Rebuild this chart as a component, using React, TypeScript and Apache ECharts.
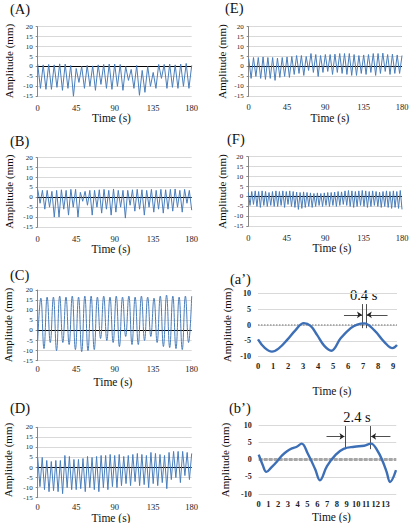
import { useEffect, useRef } from "react";
import * as echarts from "echarts";

// ---------------- data ----------------
// Long recordings: successive extremes (peak / trough), sampled evenly over 0-180 s
const TIME_SPAN = 180;
const LONG_X_TICK_STEP = 45;

const A_EXTREMES = [
  1.2, -11, 0.8, -11.5, 1, -11.5, 0.8, -10.5, 1.3, -12,
  1.2, -11, 0.5, -15, -1, -8, 0, -11, 0.5, -10,
  0.3, -12, 0.8, -9, 1, -11, 1.2, -11.5, 1.2, -10,
  1, -12, 0, -7, -1.5, -11, 0.5, -14.5, -2, -13,
  0, -10, -3, -11, 1, -6, 1, -11, 1.2, -10.5,
  0.8, -11, 1.2, -10, 1.5, -11, 0.5,
];
const B_EXTREMES = [
  4, -3, 3.5, -6, 3.5, -5, 3, -10, 3.5, -10,
  3.8, -6, 3.5, -9, 4, -5, 4, -10, 2.5, -2,
  3, -4, 3.5, -9, 3.5, -5, 3.8, -8, 4, -6,
  3.5, -9, 4.2, -7.5, 3.5, -5, 3.5, -10.5, 3.5, -4,
  3.8, -7, 4, -6, 3.8, -9, 3.5, -5, 4, -7.5,
  3.5, -6, 4, -8, 3.8, -6, 4, -7, 4.2, -5,
  3.5, -7.5, 4, -3, 3.5, -6.5,
];
const C_EXTREMES = [
  -5, 16, -9, 16.5, -6, 16.5, -10, 17, -6, 16.5,
  -7, 17, -9.5, 16.5, -10.5, 17, -10, 17, -9.5, 16.5,
  -4, 17, -5, 16.5, -6, 17, -8, 16.5, -3, 17,
  -7, 16.5, -7, 17, -5, 16.5, -3, 16, -6, 17,
  -8, 17.5, -8.5, 17, -9, 16.5, -9.5, 17, -6, 17,
];
const D_EXTREMES = [
  5, -9.5, 5, -11, 3.5, -12, 3, -11.5, 3.5, -12,
  3.5, -13, 6, -10, 5.5, -11, 4, -11, 4, -10.5,
  4.5, -12, 5.5, -10, 5, -11, 5.5, -12, 6, -10,
  6, -11, 6.5, -9.5, 6, -10, 6.5, -9, 5.5, -8,
  6, -9, 6.5, -7, 7, -9, 6.5, -8.5, 6, -10,
  7.5, -8, 7, -9, 6.5, -7.5, 6, -10.5, 7.5, -6,
  8, -5, 8, -7.5, 8, -4, 7.5, -6, 7,
];
const E_EXTREMES = [
  4, -6, 4.5, -5, 4.5, -6, 4.8, -6.5, 4.5, -6,
  4.5, -7, 4.2, -5.5, 4.5, -5, 4.8, -5.5, 5, -4,
  5.5, -3.5, 5.5, -4.5, 5, -2, 6.5, -3, 6, -5,
  5.5, -3, 6, -2.5, 6, -4, 6.2, -3, 6.5, -3.5,
  6.5, -4, 6.5, -4.5, 6, -4.5, 5.5, -3.5, 5.8, -4,
  6, -3, 6.5, -4.5, 6.5, -3.5, 6.7, -2.5, 6, -4,
  6.2, -3.5, 5.8, -3.5, 5.5,
];
const F_EXTREMES = [
  2, -4.5, 2.5, -4, 2.8, -5, 2.5, -5.5, 2.8, -4.5,
  2.5, -5, 2, -4.5, 2.5, -5, 2.8, -5, 2.5, -4.5,
  2.8, -5.5, 2.5, -4, 2.8, -5, 2.5, -5.5, 2.2, -6.5,
  2, -6, 2.3, -5.5, 2, -5, 1.8, -5.5, 1.5, -5,
  1.8, -4.5, 1.5, -5, 1.8, -4.5, 2, -5, 2, -4.5,
  2.2, -5, 2.5, -4.5, 2.3, -4, 2.8, -4.5, 3, -5,
  2.8, -5.5, 2.5, -5, 2.8, -4.5, 3, -5, 2.8, -5.5,
  2.5, -5, 2.8, -4.5, 2.5, -5, 2.2, -5.5, 2.5, -5,
  2.8, -5.5, 2.5, -6, 2.8, -5.5, 2.5, -6, 3, -6.5,
];

// Close-ups (a') and (b')
const A1_TIMES = [0, 0.45, 0.93, 1.4, 1.94, 2.5, 3.05, 3.5, 3.94, 4.4, 4.88, 5.5, 6.17, 6.6, 7.06, 7.73, 8.4, 8.95, 9.25];
const A1_VALUES = [-4.5, -7.2, -8.4, -7.3, -4.7, -1.6, 0.6, -0.3, -3.2, -6.5, -8.1, -4.2, -1.0, 0.1, 0.5, -1.6, -5.3, -7.3, -6.3];
const B1_TIMES = [0, 0.4, 0.79, 1.3, 1.9, 2.4, 2.9, 3.4, 3.9, 4.4, 5.0, 5.8, 6.27, 7.0, 7.9, 8.7, 9.8, 10.8, 11.5, 12.2, 12.7, 13.1, 13.46, 14.07];
const B1_VALUES = [1.4, -1.5, -3.6, -2.3, -0.5, 1.2, 2.4, 3.2, 3.7, 4.6, 1.9, -2.9, -6.0, -1.9, 1.4, 3.1, 3.7, 4.0, 4.6, 2.4, -0.5, -3.5, -6.5, -3.1];
const A1_LAST_TICK = 9;
const B1_LAST_TICK = 13;

// Annotation of the close-ups (data units)
const A1_GAP = { left: 6.97, right: 7.19, top: 6.6, bottom: -1.0, arrowY: 3.2, arrowFrom: 5.72, arrowTo: 8.62, text: "0.4 s" };
const B1_GAP = { left: 8.84, right: 11.47, top: 9.7, bottom: 3.0, arrowY: 6.7, arrowFrom: 6.95, arrowTo: 13.5, text: "2.4 s" };

// ---------------- styling / layout ----------------
const FONT = "Liberation Serif";
const BLUE = "#4a7ebb";
const GRID_COLOR = "#d9d9d9";
const AXIS_COLOR = "#868686";

type Panel = {
  tag: string;
  kind: "long" | "close";
  grid: [number, number, number, number];
  data: number[][];
  xMax: number;
  lastTick: number;
  smooth: number | boolean;
  xLabelMargin: number;
  tagPos: [number, number];
  timePos: [number, number];
  ampPos: [number, number];
  gap?: typeof A1_GAP;
  gapTextPos?: [number, number];
  zeroStyle?: any;
};

const evenly = (vals: number[]) => {
  const step = TIME_SPAN / (vals.length - 1);
  return vals.map((v, i) => [i * step, v]);
};
const pairs = (t: number[], v: number[]) => t.map((x, i) => [x, v[i]]);

const PANELS: Panel[] = [
  { tag: "(A)", kind: "long", grid: [37.7, 26.7, 154, 69.6], data: evenly(A_EXTREMES), xMax: 180, lastTick: 180, smooth: false, xLabelMargin: 7, tagPos: [10, 9], timePos: [111.5, 117.5], ampPos: [8.5, 61] },
  { tag: "(E)", kind: "long", grid: [248.7, 26.7, 153.3, 69.6], data: evenly(E_EXTREMES), xMax: 180, lastTick: 180, smooth: false, xLabelMargin: 6, tagPos: [225, 8], timePos: [330, 117.5], ampPos: [222, 61.5] },
  { tag: "(B)", kind: "long", grid: [37.7, 157.7, 154, 69.3], data: evenly(B_EXTREMES), xMax: 180, lastTick: 180, smooth: false, xLabelMargin: 7, tagPos: [10, 141], timePos: [111, 248.5], ampPos: [8.5, 191.7] },
  { tag: "(F)", kind: "long", grid: [248.3, 156.7, 153.7, 69.6], data: evenly(F_EXTREMES), xMax: 180, lastTick: 180, smooth: false, xLabelMargin: 7, tagPos: [227, 139], timePos: [332, 247.5], ampPos: [222, 191.5] },
  { tag: "(C)", kind: "long", grid: [37.7, 290, 154, 70.7], data: evenly(C_EXTREMES), xMax: 180, lastTick: 180, smooth: 0.45, xLabelMargin: 4, tagPos: [10, 274.5], timePos: [113, 381.7], ampPos: [8, 325] },
  { tag: "(a’)", kind: "close", grid: [258, 293.3, 139, 63.4], data: pairs(A1_TIMES, A1_VALUES), xMax: 9.25, lastTick: A1_LAST_TICK, smooth: 0.4, xLabelMargin: 5, tagPos: [230, 278.5], timePos: [332, 390.7], ampPos: [227, 325], gap: A1_GAP, gapTextPos: [363.7, 294.5], zeroStyle: { color: "#9a9a9a", type: "dotted", width: 1.5 } },
  { tag: "(D)", kind: "long", grid: [37.7, 427.3, 154, 70.4], data: evenly(D_EXTREMES), xMax: 180, lastTick: 180, smooth: false, xLabelMargin: 4.5, tagPos: [10, 407.5], timePos: [111, 517.5], ampPos: [8, 460] },
  { tag: "(b’)", kind: "close", grid: [258.7, 425, 137.6, 69], data: pairs(B1_TIMES, B1_VALUES), xMax: 14.1, lastTick: B1_LAST_TICK, smooth: 0.4, xLabelMargin: 5, tagPos: [229, 408], timePos: [331.5, 517], ampPos: [225, 460], gap: B1_GAP, gapTextPos: [357, 416.5], zeroStyle: { color: "#a6a6a6", type: [4, 1], width: 3 } },
];

function buildOption() {
  const grid = PANELS.map((p) => ({ left: p.grid[0], top: p.grid[1], width: p.grid[2], height: p.grid[3] }));

  const xAxis = PANELS.map((p, i) => ({
    type: "value",
    gridIndex: i,
    min: 0,
    max: p.xMax,
    interval: p.kind === "long" ? LONG_X_TICK_STEP : 1,
    axisLine: { show: false },
    axisTick: { show: false },
    splitLine: { show: false },
    axisLabel: {
      margin: p.xLabelMargin,
      fontFamily: FONT,
      fontSize: p.kind === "long" ? 8.5 : 8.5,
      fontWeight: p.kind === "long" ? "normal" : "bold",
      color: "#222",
      formatter: (v: number) => (Number.isInteger(v) && v <= p.lastTick ? String(v) : ""),
    },
  }));

  const yAxis = PANELS.map((p, i) => ({
    type: "value",
    gridIndex: i,
    min: p.kind === "long" ? -15 : -10,
    max: p.kind === "long" ? 20 : 10,
    interval: 5,
    axisLine: { show: p.kind === "long", lineStyle: { color: AXIS_COLOR, width: 1 } },
    axisTick: { show: p.kind === "long", length: 2, lineStyle: { color: AXIS_COLOR } },
    splitLine: { show: true, lineStyle: { color: GRID_COLOR, width: 1 } },
    axisLabel: {
      margin: p.kind === "long" ? 5 : 7,
      fontFamily: FONT,
      fontSize: p.kind === "long" ? 7 : 8,
      fontWeight: p.kind === "long" ? "normal" : "bold",
      color: "#222",
    },
  }));

  const series = PANELS.map((p, i) => {
    const markData: any[] = [
      { yAxis: 0, lineStyle: p.zeroStyle || { color: "#000", type: "solid", width: 1 } },
    ];
    if (p.gap) {
      const g = p.gap;
      const ann = { color: "#222", width: 0.8, type: "solid" };
      markData.push(
        [{ coord: [g.left, g.top], lineStyle: ann }, { coord: [g.left, g.bottom] }],
        [{ coord: [g.right, g.top], lineStyle: ann }, { coord: [g.right, g.bottom] }],
        [{ coord: [g.arrowFrom, g.arrowY], lineStyle: ann }, { coord: [g.left - 0.05, g.arrowY], symbol: "arrow", symbolSize: 5 }],
        [{ coord: [g.arrowTo, g.arrowY], lineStyle: ann }, { coord: [g.right + 0.05, g.arrowY], symbol: "arrow", symbolSize: 5 }]
      );
    }
    return {
      type: "line",
      xAxisIndex: i,
      yAxisIndex: i,
      data: p.data,
      showSymbol: false,
      symbol: "none",
      smooth: p.smooth,
      lineStyle: { color: p.kind === "long" ? BLUE : "#3d6fb6", width: p.kind === "long" ? 1 : 2.4 },
      z: 3,
      markLine: {
        silent: true,
        symbol: ["none", "none"],
        label: { show: false },
        emphasis: { disabled: true },
        data: markData,
        z: 2,
      },
    };
  });

  const texts: any[] = [];
  PANELS.forEach((p) => {
    texts.push({
      type: "text", x: p.tagPos[0], y: p.tagPos[1],
      style: { text: p.tag, fontFamily: FONT, fontSize: 14.5, fill: "#111", align: "left", verticalAlign: "middle" },
    });
    texts.push({
      type: "text", x: p.timePos[0], y: p.timePos[1],
      style: { text: "Time (s)", fontFamily: FONT, fontSize: 11.5, fill: "#111", align: "center", verticalAlign: "middle" },
    });
    texts.push({
      type: "text", x: p.ampPos[0], y: p.ampPos[1], rotation: Math.PI / 2,
      style: { text: "Amplitude (mm)", fontFamily: FONT, fontSize: 11, fill: "#111", align: "center", verticalAlign: "middle" },
    });
    if (p.gap && p.gapTextPos) {
      texts.push({
        type: "text", x: p.gapTextPos[0], y: p.gapTextPos[1],
        style: { text: p.gap.text, fontFamily: FONT, fontSize: 14.5, fill: "#111", align: "center", verticalAlign: "middle" },
      });
    }
  });

  return {
    animation: false,
    backgroundColor: "#fff",
    textStyle: { fontFamily: FONT },
    grid,
    xAxis,
    yAxis,
    series,
    graphic: texts,
  };
}

export default function App() {
  const ref = useRef<HTMLDivElement>(null);
  useEffect(() => {
    if (!ref.current) return;
    const chart = echarts.init(ref.current, undefined, { renderer: "svg" });
    chart.setOption(buildOption() as any);
    return () => chart.dispose();
  }, []);
  return (
    <div
      ref={ref}
      style={{ position: "fixed", left: 0, top: 0, width: 414, height: 523, background: "#fff" }}
    />
  );
}
